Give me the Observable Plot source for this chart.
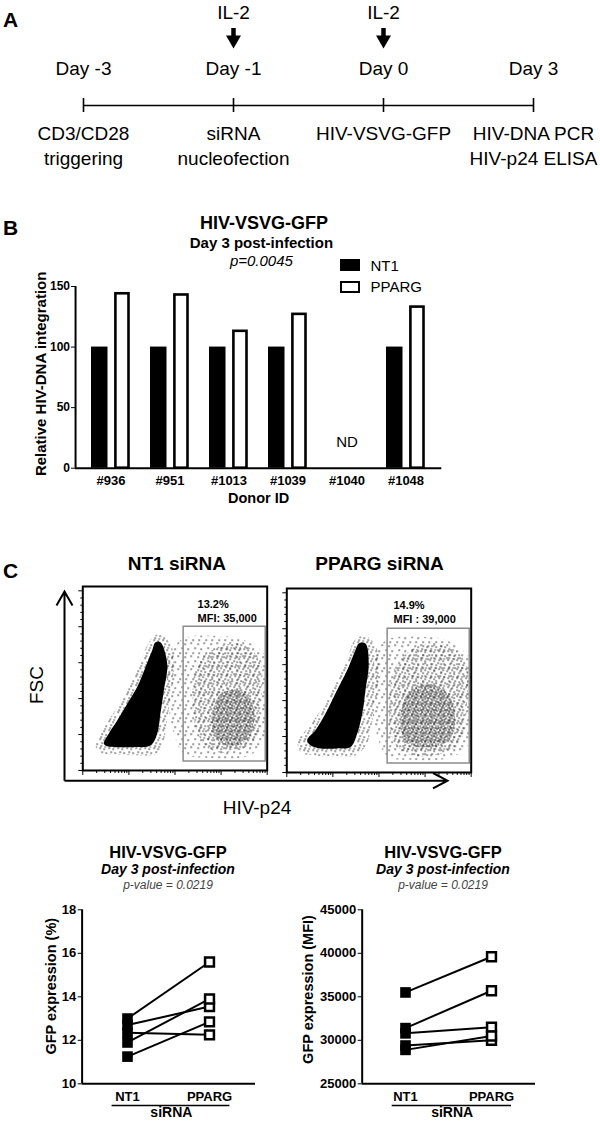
<!DOCTYPE html>
<html><head><meta charset="utf-8">
<script src="https://cdn.jsdelivr.net/npm/d3@7"></script>
<script src="https://cdn.jsdelivr.net/npm/@observablehq/plot@0.6"></script>
<style>
body{margin:0;background:#fff;}
#fig{position:relative;width:600px;height:1123px;overflow:hidden;font-family:"Liberation Sans",Arial,Helvetica,sans-serif;color:#000;background:#fff;}
#fig svg{position:absolute;}
#panelB g[aria-label="y-axis tick label"]{font-size:12px;}
</style></head><body><div id="fig"></div>
<script>
// ---------------- DATA ----------------
// Panel A: timeline
const timelineDays = ["Day -3", "Day -1", "Day 0", "Day 3"];
const timelineLine1 = ["CD3/CD28", "siRNA", "HIV-VSVG-GFP", "HIV-DNA PCR"];
const timelineLine2 = ["triggering", "nucleofection", "", "HIV-p24 ELISA"];
const il2Days = ["Day -1", "Day 0"];

// Panel B: relative HIV-DNA integration
const donors = ["#936", "#951", "#1013", "#1039", "#1040", "#1048"];
const nt1Integration = [100, 100, 100, 100, null, 100];
const ppargIntegration = [144, 143, 113, 127, null, 133];
const notDetermined = ["#1040"];
const seriesB = ["NT1", "PPARG"];

// Panel C: flow cytometry (channel units 0-1024; outlines of the event clouds)
const flowTitles = ["NT1 siRNA", "PPARG siRNA"];
const flowPercent = ["13.2%", "14.9%"];
const flowMFI = ["MFI: 35,000", "MFI : 39,000"];
const flowGate = [560, 1016, 50, 800]; // x1, x2, y1, y2
const nt1Core = [[431,714],[469,592],[450,445],[431,316],[413,204],[376,139],[283,130],[191,130],[135,135],[117,149],[144,204],[191,278],[247,371],[302,464],[348,575],[385,668],[404,714]];
const nt1Halo = [[430,755],[490,700],[505,560],[490,420],[470,290],[450,170],[410,95],[290,85],[180,90],[90,100],[70,140],[100,210],[150,290],[210,380],[265,480],[315,590],[360,700],[395,750]];
const nt1GfpSparse = [[480,650],[560,735],[720,750],[880,730],[1005,650],[1012,420],[1000,150],[900,75],[700,70],[560,95],[495,250],[470,460]];
const nt1GfpMid = [[640,600],[760,690],[900,700],[985,600],[990,380],[960,180],[860,110],[720,110],[640,200],[610,400]];
const nt1GfpDense = [[720,300],[760,420],[860,450],[935,390],[950,260],[900,160],[800,140],[730,190]];
const ppargCore = [[437,718],[455,607],[437,458],[419,328],[391,217],[354,142],[280,134],[187,134],[132,152],[113,180],[159,235],[215,328],[270,440],[335,569],[381,681],[400,718]];
const ppargHalo = [[440,760],[500,690],[510,540],[495,400],[470,260],[440,150],[380,95],[260,90],[150,95],[80,110],[60,170],[110,240],[170,320],[230,420],[290,540],[340,650],[380,740]];
const ppargGfpSparse = [[490,660],[560,740],[730,755],[890,735],[1010,640],[1014,400],[1005,150],[900,80],[700,70],[560,90],[490,250],[475,460]];
const ppargGfpMid = [[600,580],[720,700],[880,710],[990,620],[1000,380],[960,170],[840,100],[680,100],[590,180],[570,380]];
const ppargGfpDense = [[630,300],[680,450],[800,490],[900,430],[935,300],[900,180],[780,140],[660,170]];

// Panel C bottom: paired GFP expression
const siRNAs = ["NT1", "PPARG"];
const gfpNT1 = [13.0, 12.7, 12.35, 11.9, 11.25];
const gfpPPARG = [15.6, 13.55, 12.25, 13.9, 12.85];
const gfpTicks = [10, 12, 14, 16, 18];
const mfiNT1 = [35500, 31400, 30800, 29400, 28900];
const mfiPPARG = [39600, 35700, 31500, 30000, 30500];
const mfiTicks = [25000, 30000, 35000, 40000, 45000];

// ---------------- HELPERS ----------------
const FONT = '"Liberation Sans", Arial, Helvetica, sans-serif';
const fig = document.getElementById("fig");
function place(node, left, top, id) {
  node.style.left = left + "px"; node.style.top = top + "px";
  node.style.position = "absolute";
  if (id) node.id = id;
  fig.appendChild(node); return node;
}
function label(text, x, y, o = {}) {
  const d = document.createElement("div");
  d.textContent = text;
  const tx = o.anchor === "start" ? "0" : "-50%";
  d.style.cssText = `position:absolute;left:${x}px;top:${y}px;font-size:${o.size||16}px;font-weight:${o.weight||"normal"};font-style:${o.style||"normal"};color:${o.color||"#000"};white-space:nowrap;line-height:1;transform:translate(${tx},-50%)${o.rotate?` rotate(${o.rotate}deg)`:""};`;
  fig.appendChild(d); return d;
}
const baseStyle = {fontFamily: FONT, color: "black", background: "transparent", overflow: "visible"};

// dot patterns for the flow-cytometry event clouds
const defsSvg = d3.select(fig).append("svg").attr("width", 0).attr("height", 0);
const defs = defsSvg.append("defs");
function pattern(id, size, dots) {
  const p = defs.append("pattern").attr("id", id).attr("width", size).attr("height", size).attr("patternUnits", "userSpaceOnUse");
  dots.forEach(([x, y]) => p.append("rect").attr("x", x).attr("y", y).attr("width", 1.3).attr("height", 1.3).attr("fill", "#111"));
}
pattern("dotsSparse", 13, [[1,2],[7,1],[11,6],[4,7],[9,11],[2,11]]);
pattern("dotsMid", 9, [[0,1],[5,0],[7,4],[2,5],[6,7],[1,8]]);
pattern("dotsDense", 6, [[0,0],[3,1],[5,3],[1,3],[4,5],[2,5]]);

// ---------------- PANEL A ----------------
const tl = timelineDays.map((d, i) => ({day: d, l1: timelineLine1[i], l2: timelineLine2[i]}));
const rowA = {il2: 12.5, shaft1: 28, shaft2: 37, head: 41.5, day: 68.3, line: 105, tick1: 98, tick2: 112, ev1: 133.5, ev2: 158};
const downTriangle = {draw(ctx) { ctx.moveTo(-7.5, -6.5); ctx.lineTo(7.5, -6.5); ctx.lineTo(0, 6.5); ctx.closePath(); }};
const plotA = Plot.plot({
  width: 600, height: 175, margin: 0,
  style: {...baseStyle, fontSize: "19px"},
  x: {type: "point", domain: timelineDays, range: [82, 534], padding: 0, axis: null},
  y: {type: "identity", axis: null},
  marks: [
    Plot.ruleY([rowA.line], {x1: () => timelineDays[0], x2: () => timelineDays[timelineDays.length - 1], strokeWidth: 1.6}),
    Plot.ruleX(timelineDays, {x: d => d, y1: rowA.tick1, y2: rowA.tick2, strokeWidth: 1.6}),
    Plot.text(tl, {x: "day", y: () => rowA.day, text: "day"}),
    Plot.text(tl, {x: "day", y: () => rowA.ev1, text: "l1"}),
    Plot.text(tl, {x: "day", y: () => rowA.ev2, text: "l2"}),
    Plot.text(il2Days, {x: d => d, y: () => rowA.il2, text: () => "IL-2"}),
    Plot.ruleX(il2Days, {x: d => d, y1: rowA.shaft1, y2: rowA.shaft2, strokeWidth: 4.5}),
    Plot.dot(il2Days, {x: d => d, y: () => rowA.head, symbol: downTriangle, fill: "black", stroke: "none"})
  ]
});
place(plotA, 0, 0);

// ---------------- PANEL B ----------------
const bData = donors.map((d, i) => ({donor: d, nt1: nt1Integration[i], pparg: ppargIntegration[i]}));
const bW = 460, bH = 320, bML = 75, bMR = 18.7, bMT = 86, bMB = 52.3, bPad = 0.1;
const bStep = (bW - bML - bMR) / (donors.length + 2 * bPad);
const plotB = Plot.plot({
  width: bW, height: bH, marginLeft: bML, marginRight: bMR, marginTop: bMT, marginBottom: bMB,
  style: {...baseStyle, fontSize: "13px", fontWeight: "bold"},
  x: {type: "band", domain: donors, paddingInner: 0, paddingOuter: bPad, tickSize: 0, tickPadding: 8, label: null},
  y: {domain: [0, 150], ticks: [0, 50, 100, 150], tickSize: 4, tickPadding: 1.5, label: null},
  marks: [
    Plot.barY(bData, {x: "donor", y: "nt1", fill: "black", insetLeft: 10, insetRight: 32.5}),
    Plot.barY(bData, {x: "donor", y: "pparg", fill: "white", stroke: "black", strokeWidth: 2.6, insetLeft: 34.4, insetRight: 11.5}),
    Plot.ruleY([0], {strokeWidth: 2}),
    Plot.ruleX([donors[0]], {y1: 0, y2: 150, dx: -(bStep * bPad + bStep / 2), strokeWidth: 2}),
    Plot.text(notDetermined, {x: d => d, frameAnchor: "bottom", dy: -21, text: () => "ND", fontSize: 15, fontWeight: "normal"}),
    Plot.text(["Donor ID"], {frameAnchor: "bottom", dy: 35, text: d => d, fontSize: 14.5}),
    Plot.text(["Relative HIV-DNA integration"], {frameAnchor: "left", textAnchor: "middle", dx: -34.8, dy: -3.5, rotate: -90, text: d => d, fontSize: 15})
  ]
});
place(plotB, 0, 200, "panelB");
// titles & legend (HTML)
label("HIV-VSVG-GFP", 264, 223.3, {size: 18, weight: "bold"});
label("Day 3 post-infection", 261.4, 241.7, {size: 15, weight: "bold"});
label("p=0.0045", 261.4, 260, {size: 15, style: "italic"});
function swatch(left, top, filled) {
  const s = document.createElement("div");
  s.style.cssText = `position:absolute;left:${left}px;top:${top}px;width:20px;height:12px;box-sizing:border-box;background:${filled ? "#000" : "#fff"};border:2.5px solid #000;`;
  fig.appendChild(s);
}
swatch(340, 259.3, true); label(seriesB[0], 370.5, 265, {size: 15, anchor: "start"});
swatch(340, 280.7, false); label(seriesB[1], 370.5, 286, {size: 15, anchor: "start"});

// ---------------- PANEL C (flow) ----------------
const xMajor = d3.range(0, 5).map(d => 256 * d);
const xMinor = d3.range(0, 4).flatMap(dec => d3.range(2, 10).map(k => 256 * (dec + Math.log10(k))));
const yMajor = d3.range(0, 1025, 200);
const yMinor = d3.range(0, 1024, 40).filter(v => v % 200 !== 0);
function flowPlot(core, halo, sparse, mid, dense, pct, mfi, textDx, textDy) {
  const P = (arr, fill) => Plot.line(arr, {x: d => d[0], y: d => d[1], curve: "catmull-rom-closed", fill, stroke: "none"});
  return Plot.plot({
    width: 232.7, height: 204, marginLeft: 42.3, marginRight: 6, marginTop: 10, marginBottom: 10,
    style: {...baseStyle, fontSize: "11px", fontWeight: "bold"},
    x: {domain: [0, 1024]}, y: {domain: [0, 1024]},
    marks: [
      P(halo, "url(#dotsMid)"),
      P(core, "black"),
      P(sparse, "url(#dotsSparse)"),
      P(mid, "url(#dotsMid)"),
      P(dense, "url(#dotsDense)"),
      Plot.rect([flowGate], {x1: g => g[0], x2: g => g[1], y1: g => g[2], y2: g => g[3], fill: "none", stroke: "#8c8c8c", strokeWidth: 1.5}),
      Plot.frame({stroke: "black", strokeWidth: 2}),
      Plot.axisX({ticks: xMajor, tickSize: 5, tickFormat: () => "", label: null}),
      Plot.axisX({ticks: xMinor, tickSize: 3, tickFormat: () => "", label: null}),
      Plot.axisY({ticks: yMajor, tickSize: 4, tickFormat: () => "", label: null}),
      Plot.axisY({ticks: yMinor, tickSize: 2, tickFormat: () => "", label: null}),
      Plot.text([pct], {frameAnchor: "top-left", textAnchor: "start", dx: textDx, dy: textDy, text: d => d}),
      Plot.text([mfi], {frameAnchor: "top-left", textAnchor: "start", dx: textDx, dy: textDy + 13.5, text: d => d})
    ]
  });
}
place(flowPlot(nt1Core, nt1Halo, nt1GfpSparse, nt1GfpMid, nt1GfpDense, flowPercent[0], flowMFI[0], 114.8, 14), 40, 576);
place(flowPlot(ppargCore, ppargHalo, ppargGfpSparse, ppargGfpMid, ppargGfpDense, flowPercent[1], flowMFI[1], 106.7, 12.7), 244, 578.3);
label(flowTitles[0], 176.8, 563.3, {size: 19, weight: "bold"});
label(flowTitles[1], 379.6, 563.3, {size: 19, weight: "bold"});
// common axis arrows (decoration)
const deco = d3.select(fig).append("svg").attr("width", 600).attr("height", 1123).style("left", "0px").style("top", "0px").style("pointer-events", "none");
deco.append("path").attr("d", "M64.5,780.7V591.5M56.5,605.5L64.5,591.5L72.5,605.5M64.5,780.7H447.5M433,773L447.5,780.7L433,788.4")
  .attr("fill", "none").attr("stroke", "#000").attr("stroke-width", 2);
label("FSC", 36.4, 685, {size: 19, rotate: -90});
label("HIV-p24", 257, 806.5, {size: 19});

// ---------------- PANEL C (paired plots) ----------------
function pairPlot(nt1, pparg, domain, ticks, pad, yLabel, yDx, yDy, ulLeft, ulRight, siDx) {
  const data = nt1.map((v, i) => ({nt1: v, pparg: pparg[i]}));
  const W = 262, H = 233, ML = 81.7, MR = 7, MT = 19.3, MB = 39.7;
  const step = (W - ML - MR) / (siRNAs.length - 1 + 2 * pad);
  return Plot.plot({
    width: W, height: H, marginLeft: ML, marginRight: MR, marginTop: MT, marginBottom: MB,
    style: {...baseStyle, fontSize: "13px", fontWeight: "bold"},
    x: {type: "point", domain: siRNAs, padding: pad, tickSize: 0, tickPadding: 8, label: null},
    y: {domain, ticks, tickSize: 4, tickPadding: 2, tickFormat: "d", label: null},
    marks: [
      Plot.ruleY([domain[0]], {strokeWidth: 2}),
      Plot.ruleX([siRNAs[0]], {y1: domain[0], y2: domain[1], dx: -pad * step, strokeWidth: 2}),
      Plot.link(data, {x1: () => siRNAs[0], x2: () => siRNAs[1], y1: "nt1", y2: "pparg", strokeWidth: 2}),
      Plot.dot(data, {x: () => siRNAs[0], y: "nt1", symbol: "square", r: 6, fill: "black", stroke: "none"}),
      Plot.dot(data, {x: () => siRNAs[1], y: "pparg", symbol: "square", r: 5, fill: "white", stroke: "black", strokeWidth: 2.5}),
      Plot.ruleY([domain[0]], {x1: () => siRNAs[0], x2: () => siRNAs[1], dy: 21.7, insetLeft: -ulLeft, insetRight: -ulRight, strokeWidth: 1.5}),
      Plot.text(["siRNA"], {frameAnchor: "bottom", dx: siDx, dy: 32.7, text: d => d, fontSize: 14}),
      Plot.text([yLabel], {frameAnchor: "left", textAnchor: "middle", dx: yDx, dy: yDy, rotate: -90, text: d => d, fontSize: 14.5})
    ]
  });
}
place(pairPlot(gfpNT1, gfpPPARG, [10, 18], gfpTicks, 0.55, "GFP expression (%)", -31, -10.6, 15.4, 20.4, 2.5), 0, 890);
place(pairPlot(mfiNT1, mfiPPARG, [25000, 45000], mfiTicks, 0.5, "GFP expression (MFI)", -53.4, -7.3, 13.3, 20, 3.3), 280, 890);
[168, 443].forEach(cx => {
  label("HIV-VSVG-GFP", cx, 851.7, {size: 16.5, weight: "bold"});
  label("Day 3 post-infection", cx, 869, {size: 14, weight: "bold", style: "italic"});
  label("p-value = 0.0219", cx, 885, {size: 12, style: "italic", color: "#444"});
});

// panel letters
label("A", 10.5, 18.5, {size: 21, weight: "bold"});
label("B", 10.5, 226.5, {size: 21, weight: "bold"});
label("C", 10.5, 570, {size: 21, weight: "bold"});
</script></body></html>
